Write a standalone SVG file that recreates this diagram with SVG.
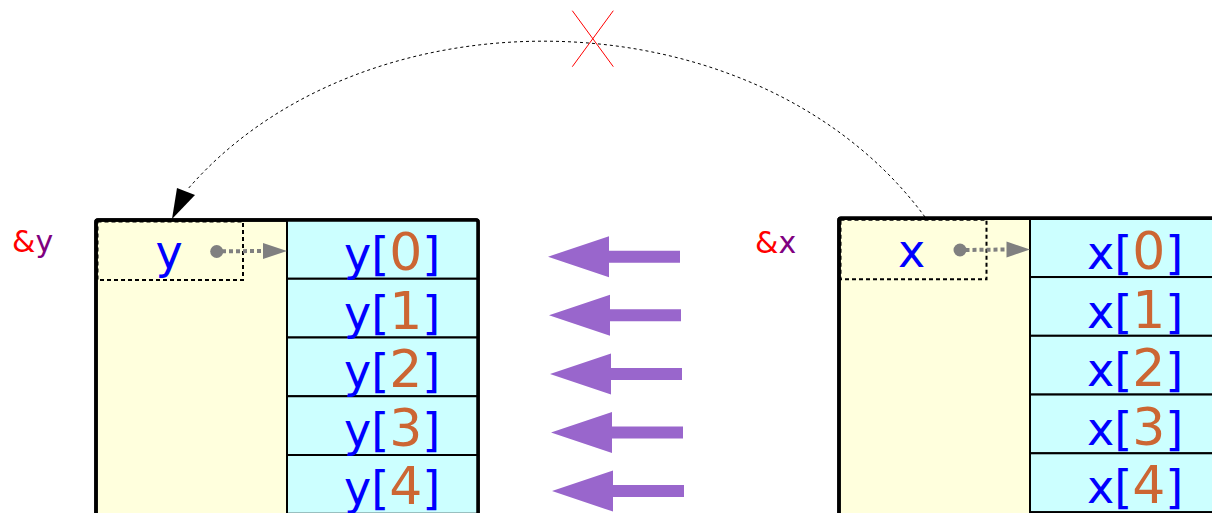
<svg xmlns="http://www.w3.org/2000/svg" width="1212" height="513" viewBox="0 0 1212 513">
<style>
.outer{fill:#ffffdd;stroke:#000;stroke-width:3.5;stroke-linejoin:round}
.cell{fill:#ccffff;stroke:#000;stroke-width:2}
.inner{fill:none;stroke:#000;stroke-width:2;stroke-dasharray:4 3}
.t{font-family:"DejaVu Sans","Noto Sans",sans-serif;font-size:46px;fill:#0000ff}
.d{font-size:52px;fill:#cc6633}
.amp{font-family:"DejaVu Sans","Noto Sans",sans-serif;font-size:30px}
.ptr{stroke:#808080;stroke-width:4;stroke-dasharray:4 3;fill:none}
.ptrh{fill:#808080}
.big{fill:#9966cc}
</style>
<defs>
<polygon id="bigarrow" points="0,0 61,-20.5 61,-6 132,-6 132,6 61,6 61,20.5"/>
</defs>

<g id="node-y">
<rect class="outer" x="96" y="220" width="382" height="400" rx="2"/>
<rect class="cell" x="287" y="220" width="191" height="58.75"/>
<rect class="cell" x="287" y="278.75" width="191" height="58.75"/>
<rect class="cell" x="287" y="337.5" width="191" height="58.75"/>
<rect class="cell" x="287" y="396.25" width="191" height="58.75"/>
<rect class="cell" x="287" y="455" width="191" height="58.75"/>
<rect class="outer" x="96" y="220" width="382" height="400" rx="2" style="fill:none"/>
<rect class="inner" x="97.5" y="221.5" width="145.5" height="58.5"/>
<text class="t" x="169" y="268" text-anchor="middle">y</text>
<text class="t" x="344" y="270">y[<tspan class="d">0</tspan>]</text>
<text class="t" x="344" y="328.6">y[<tspan class="d">1</tspan>]</text>
<text class="t" x="344" y="387.2">y[<tspan class="d">2</tspan>]</text>
<text class="t" x="344" y="445.8">y[<tspan class="d">3</tspan>]</text>
<text class="t" x="344" y="504.4">y[<tspan class="d">4</tspan>]</text>
</g>
<g id="label-y">
<text class="amp" x="12" y="252"><tspan fill="#ff0000">&amp;</tspan><tspan fill="#800080">y</tspan></text>
</g>

<g id="node-x">
<rect class="outer" x="839" y="218.3" width="382" height="400" rx="2"/>
<rect class="cell" x="1030" y="218.3" width="191" height="58.75"/>
<rect class="cell" x="1030" y="277.05" width="191" height="58.75"/>
<rect class="cell" x="1030" y="335.8" width="191" height="58.75"/>
<rect class="cell" x="1030" y="394.55" width="191" height="58.75"/>
<rect class="cell" x="1030" y="453.3" width="191" height="58.75"/>
<rect class="outer" x="839" y="218.3" width="382" height="400" rx="2" style="fill:none"/>
<rect class="inner" x="840.5" y="219.8" width="146" height="59.5"/>
<text class="t" x="911.7" y="267" text-anchor="middle">x</text>
<text class="t" x="1087" y="269">x[<tspan class="d">0</tspan>]</text>
<text class="t" x="1087" y="327.5">x[<tspan class="d">1</tspan>]</text>
<text class="t" x="1087" y="386">x[<tspan class="d">2</tspan>]</text>
<text class="t" x="1087" y="444.5">x[<tspan class="d">3</tspan>]</text>
<text class="t" x="1087" y="503">x[<tspan class="d">4</tspan>]</text>
</g>
<g id="label-x">
<text class="amp" x="755" y="252.5"><tspan fill="#ff0000">&amp;</tspan><tspan fill="#800080">x</tspan></text>
</g>

<g id="connectors">
<path d="M925,217 C758,-9.5 364,-15.7 187,190" fill="none" stroke="#000" stroke-width="1" stroke-dasharray="3 3"/>
<polygon points="172,219 177,188 195,195" fill="#000"/>
<line x1="572.3" y1="10.7" x2="613.3" y2="66.7" stroke="#ff0000" stroke-width="1"/>
<line x1="613.3" y1="10.7" x2="572.3" y2="66.7" stroke="#ff0000" stroke-width="1"/>

<circle cx="216.7" cy="251.5" r="6.5" fill="#808080"/>
<line class="ptr" x1="222" y1="251.3" x2="263" y2="251"/>
<polygon class="ptrh" points="263,243 287,251 263,259"/>
<circle cx="960" cy="250" r="6.5" fill="#808080"/>
<line class="ptr" x1="965.5" y1="250" x2="1006.5" y2="249.5"/>
<polygon class="ptrh" points="1006.5,241.5 1030,249.5 1006.5,257.5"/>

<use href="#bigarrow" class="big" x="548" y="256.7"/>
<use href="#bigarrow" class="big" x="549" y="315.3"/>
<use href="#bigarrow" class="big" x="550" y="373.9"/>
<use href="#bigarrow" class="big" x="551" y="432.5"/>
<use href="#bigarrow" class="big" x="552" y="491.1"/>
</g>
</svg>
